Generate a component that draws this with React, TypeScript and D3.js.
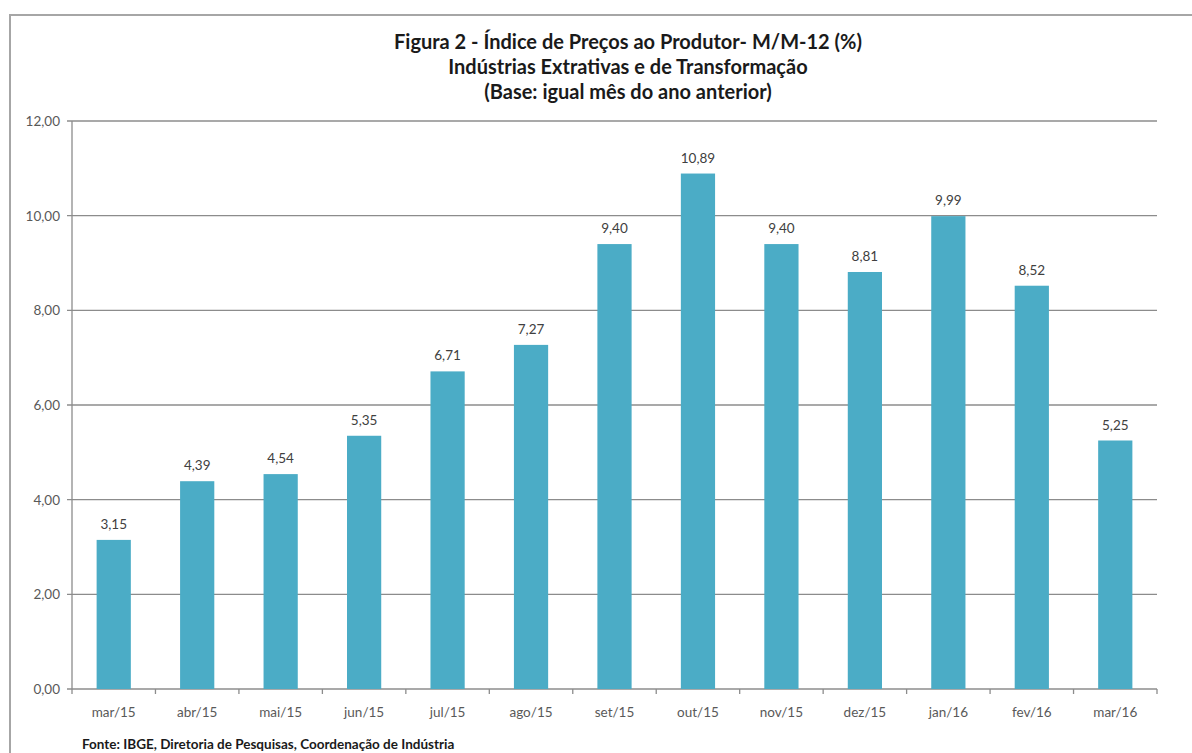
import React from "react";
import * as d3 from "d3";

const categories = ["mar/15","abr/15","mai/15","jun/15","jul/15","ago/15","set/15","out/15","nov/15","dez/15","jan/16","fev/16","mar/16"];
const values = [3.15,4.39,4.54,5.35,6.71,7.27,9.40,10.89,9.40,8.81,9.99,8.52,5.25];
const yTicks = [0,2,4,6,8,10,12];
const titleLines = [
  "Figura 2 - Índice de Preços ao Produtor- M/M-12 (%)",
  "Indústrias Extrativas e de Transformação",
  "(Base: igual mês do ano anterior)",
];
const sourceText = "Fonte: IBGE, Diretoria  de Pesquisas, Coordenação de Indústria";

const W = 1192, H = 753;
const plot = { left: 72, right: 1157, top: 121, bottom: 689 };
const FONT = "Lato, 'Open Sans', sans-serif";
const fmt = (v: number) => v.toFixed(2).replace(".", ",");

export default function App() {
  const x = d3.scaleBand<string>().domain(categories).range([plot.left, plot.right]).paddingInner(0.59).paddingOuter(0.295);
  const y = d3.scaleLinear().domain([0, 12]).range([plot.bottom, plot.top]);
  const step = x.step();
  const boundaries = d3.range(categories.length + 1).map(i => plot.left + i * step);
  return (
    <svg width={W} height={H} style={{ position: "absolute", left: 0, top: 0, background: "#fff" }} fontFamily={FONT}>
      <rect x={10} y={15} width={1300} height={900} fill="#fff" stroke="#a6a6a6" strokeWidth={2} />
      {titleLines.map((t, i) => (
        <text key={i} x={628} y={49 + i * 25} textAnchor="middle" fontWeight="bold" fontSize={20} fill="#1a1a1a">{t}</text>
      ))}
      {yTicks.map(v => (
        <g key={v}>
          <line x1={plot.left - 5} x2={plot.right} y1={y(v)} y2={y(v)} stroke="#8c8c8c" strokeWidth={1.3} />
          <text x={60} y={y(v) + 5} textAnchor="end" fontSize={13.5} fill="#595959">{fmt(v)}</text>
        </g>
      ))}
      <line x1={plot.left} x2={plot.left} y1={plot.top} y2={plot.bottom} stroke="#8c8c8c" strokeWidth={1.3} />
      {boundaries.map((b, i) => (
        <line key={i} x1={b} x2={b} y1={plot.bottom} y2={plot.bottom + 5} stroke="#8c8c8c" strokeWidth={1.3} />
      ))}
      {categories.map((c, i) => (
        <g key={c}>
          <rect x={x(c)} y={y(values[i])} width={x.bandwidth()} height={plot.bottom - y(values[i])} fill="#4BACC6" />
          <text x={(x(c) as number) + x.bandwidth() / 2} y={y(values[i]) - 11} textAnchor="middle" fontSize={13.5} fill="#404040">{fmt(values[i])}</text>
          <text x={(x(c) as number) + x.bandwidth() / 2} y={717} textAnchor="middle" fontSize={13.5} fill="#595959">{c}</text>
        </g>
      ))}
      <text x={82} y={749} fontSize={13.5} fontWeight="bold" fill="#1a1a1a">{sourceText}</text>
    </svg>
  );
}
